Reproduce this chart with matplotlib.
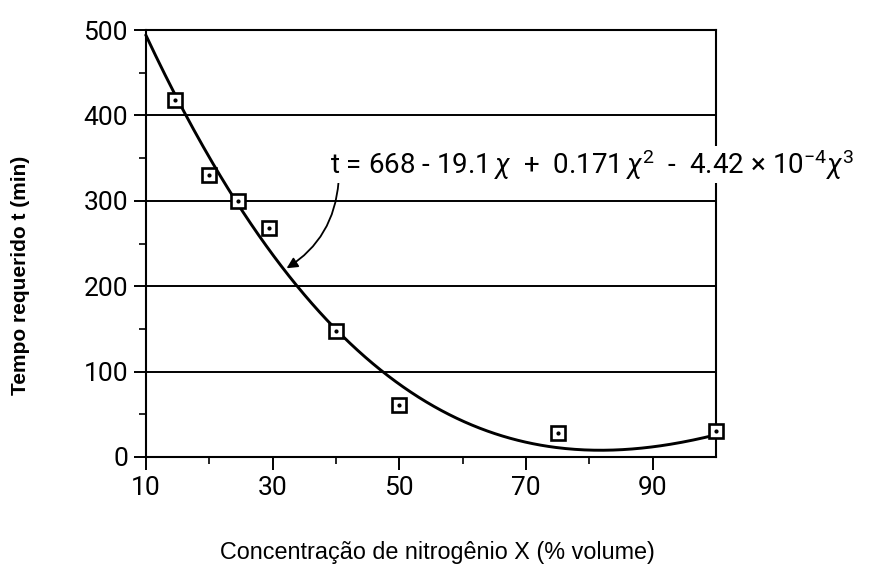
import numpy as np
import matplotlib
matplotlib.use("Agg")
import matplotlib.pyplot as plt
from matplotlib.ticker import FixedLocator

# ---- data ----
conc_x = [14.5, 20, 24.5, 29.5, 40, 50, 75, 100]
tempo_t = [418, 330, 300, 268, 148, 61, 28, 30]
# cubic fit printed on the chart: t = 668 - 19.1x + 0.171x^2 - 4.42e-4 x^3
fit_coeffs = [-4.42e-4, 0.171, -19.1, 668]
x_ticks = [10, 30, 50, 70, 90]
x_minor = [20, 40, 60, 80]
y_ticks = [0, 100, 200, 300, 400, 500]
y_minor = [50, 150, 250, 350, 450]
equation = (r"t = 668 - 19.1$\,\chi$  +  0.171$\,\chi^{2}$  -  4.42 × 10$^{-4}\chi^{3}$")
x_label = "Concentração de nitrogênio X (% volume)"
y_label = "Tempo requerido t (min)"

plt.rcParams['mathtext.fontset'] = 'custom'
plt.rcParams['mathtext.rm'] = 'Roboto'
plt.rcParams['mathtext.it'] = 'Roboto:italic'
plt.rcParams['mathtext.bf'] = 'Roboto:bold'
fig = plt.figure(figsize=(8.77, 5.71), dpi=100)
W, H = 877, 571
ax = fig.add_axes([146 / W, 1 - 457 / H, (716 - 146) / W, (457 - 30) / H])

ax.set_xlim(10, 100)
ax.set_ylim(0, 500)

xs = np.linspace(10, 100, 300)
ax.plot(xs, np.polyval(fit_coeffs, xs), color='black', lw=2.1, zorder=3, clip_on=False)
ax.plot(conc_x, tempo_t, ls='none', marker='s', ms=10, mfc='white', mec='black',
        mew=1.9, zorder=4, clip_on=False)
ax.plot(conc_x, tempo_t, ls='none', marker='o', ms=2, color='black', zorder=5, clip_on=False)

ax.xaxis.set_major_locator(FixedLocator(x_ticks))
ax.xaxis.set_minor_locator(FixedLocator(x_minor))
ax.yaxis.set_major_locator(FixedLocator(y_ticks))
ax.yaxis.set_minor_locator(FixedLocator(y_minor))
ax.grid(axis='y', which='major', color='black', lw=1.4)
ax.set_axisbelow(True)
for s in ax.spines.values():
    s.set_linewidth(1.5)
    s.set_color('black')
ax.tick_params(which='major', direction='out', length=9, width=1.4, color='black')
ax.tick_params(which='minor', direction='out', length=5, width=1.2, color='black')
ax.tick_params(axis='y', which='major', pad=4)
ax.tick_params(axis='x', which='major', pad=5)
for lab in ax.get_xticklabels() + ax.get_yticklabels():
    lab.set_fontfamily('Roboto')
    lab.set_fontsize(19)

ax.annotate('', xy=(32.2, 221), xytext=(40.4, 322),
            arrowprops=dict(arrowstyle='-|>', connectionstyle='arc3,rad=-0.25',
                            lw=1.3, color='black', mutation_scale=16,
                            shrinkA=0, shrinkB=0), zorder=6)

fig.text(330 / W, 1 - 174 / H, equation, fontsize=20, family='Roboto',
         ha='left', va='baseline', zorder=10,
         bbox=dict(facecolor='white', edgecolor='none', pad=1))

fig.text(21 / W, 1 - 275 / H, y_label, rotation=90, fontsize=15, fontweight='bold',
         family='Liberation Sans', ha='center', va='center')
fig.text(437 / W, 1 - 552 / H, x_label, fontsize=16.8, family='Liberation Sans',
         ha='center', va='center')

fig.savefig('out.png', dpi=100)
